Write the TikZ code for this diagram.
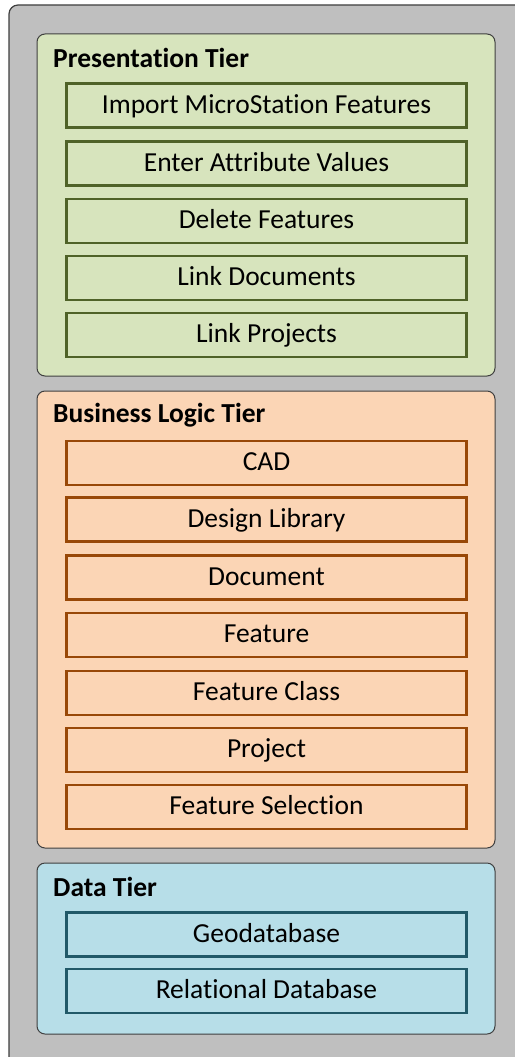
\documentclass[tikz,border=0pt]{standalone}
\usepackage{fontspec}
\setmainfont{Carlito}[Ligatures=NoCommon]
\definecolor{outerfill}{HTML}{BFBFBF}
\definecolor{framecol}{HTML}{3F3F3F}
\definecolor{gfill}{HTML}{D7E4BD}
\definecolor{gline}{HTML}{4F6228}
\definecolor{ofill}{HTML}{FBD5B5}
\definecolor{oline}{HTML}{984807}
\definecolor{bfill}{HTML}{B7DEE8}
\definecolor{bline}{HTML}{215968}
\begin{document}
\begin{tikzpicture}[x=1pt,y=-1pt,
  tierbox/.style={draw=framecol,line width=1pt,rounded corners=8pt,minimum width=458pt,inner sep=0pt},
  tiertitle/.style={anchor=base west,font=\fontsize{27.5}{30}\selectfont\bfseries,inner sep=0pt},
  item/.style={draw,line width=2.4pt,minimum width=400pt,minimum height=44pt,inner sep=0pt,
    text height=21.2pt,text depth=5.5pt,font=\fontsize{27.5}{30}\selectfont},
  gitem/.style={item,draw=gline,fill=gfill},
  oitem/.style={item,draw=oline,fill=ofill},
  bitem/.style={item,draw=bline,fill=bfill}]
\useasboundingbox (0,0) rectangle (514,1057);
\draw[draw=framecol,fill=outerfill,line width=1.2pt,rounded corners=9pt] (9,5) rectangle (540,1090);
% Presentation tier
\node[tierbox,fill=gfill,minimum height=342pt] (pres) at (266,205) {};
\node[tiertitle] (prest) at (53,67) {Presentation Tier};
\node[gitem] (p1) at (266.5,105.5) {Import MicroStation Features};
\node[gitem] (p2) at (266.5,163.5) {Enter Attribute Values};
\node[gitem] (p3) at (266.5,221) {Delete Features};
\node[gitem] (p4) at (266.5,278) {Link Documents};
\node[gitem] (p5) at (266.5,335) {Link Projects};
% Business tier
\node[tierbox,fill=ofill,minimum height=457pt] (bus) at (266,619.5) {};
\node[tiertitle] (bust) at (53,422.5) {Business Logic Tier};
\node[oitem] (b1) at (266.5,463) {CAD};
\node[oitem] (b2) at (266.5,519.5) {Design Library};
\node[oitem] (b3) at (266.5,577.5) {Document};
\node[oitem] (b4) at (266.5,635) {Feature};
\node[oitem] (b5) at (266.5,693) {Feature Class};
\node[oitem] (b6) at (266.5,750) {Project};
\node[oitem] (b7) at (266.5,807) {Feature Selection};
% Data tier
\node[tierbox,fill=bfill,minimum height=171pt] (dat) at (266,948.5) {};
\node[tiertitle] (datt) at (53,896) {Data Tier};
\node[bitem] (d1) at (266.5,934.5) {Geodatabase};
\node[bitem] (d2) at (266.5,991) {Relational Database};
\end{tikzpicture}
\end{document}
